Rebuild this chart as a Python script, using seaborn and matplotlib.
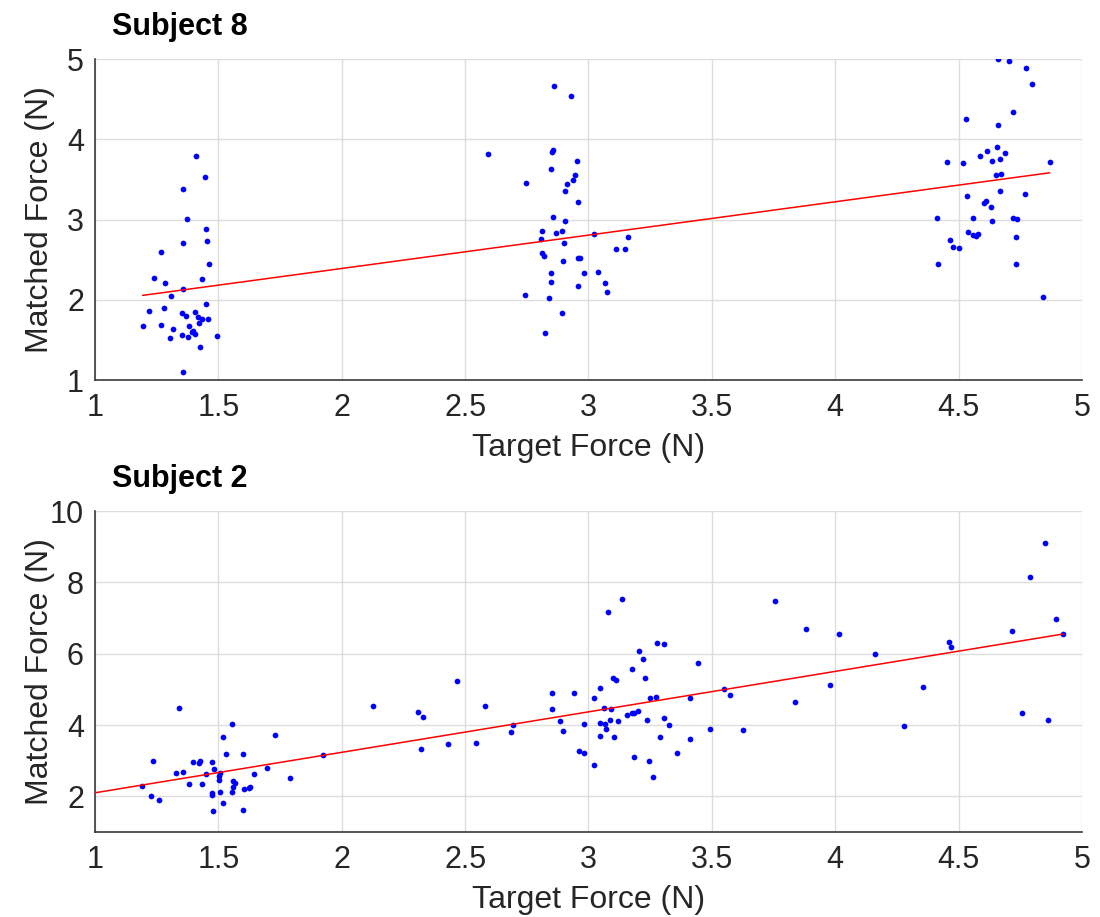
import numpy as np
import pandas as pd
import matplotlib
matplotlib.use("Agg")
import matplotlib.pyplot as plt
import seaborn as sns

# ---- Subject 8: target vs matched force (N) ----
s8_target = [
    1.411, 1.446, 1.357, 1.373, 1.451, 1.355, 1.455, 1.269, 1.462, 1.239,
    1.435, 1.284, 1.357, 1.307, 1.449, 1.220, 1.281, 1.351, 1.368, 1.405,
    1.418, 1.434, 1.459, 1.422, 1.193, 1.268, 1.318, 1.380, 1.396, 1.404,
    1.392, 1.353, 1.377, 1.304, 1.493, 1.427, 1.358,
    2.591, 2.860, 2.930, 2.855, 2.853, 2.952, 2.848, 2.945, 2.936, 2.913,
    2.905, 2.746, 2.956, 2.856, 2.903, 2.813, 2.867, 2.891, 3.021, 3.160,
    2.806, 2.902, 2.811, 2.818, 3.111, 3.148, 2.895, 2.956, 2.967, 2.850,
    2.980, 3.037, 2.848, 3.066, 2.957, 3.074, 2.742, 2.841, 2.894, 2.825,
    4.658, 4.703, 4.775, 4.798, 4.721, 4.528, 4.658, 4.655, 4.616, 4.686,
    4.585, 4.637, 4.666, 4.453, 4.519, 4.869, 4.652, 4.670, 4.667, 4.768,
    4.534, 4.601, 4.609, 4.633, 4.411, 4.557, 4.637, 4.720, 4.735, 4.540,
    4.559, 4.578, 4.569, 4.733, 4.466, 4.476, 4.500, 4.415, 4.734, 4.840,
]
s8_matched = [
    3.790, 3.530, 3.380, 3.010, 2.877, 2.711, 2.732, 2.599, 2.441, 2.275,
    2.262, 2.204, 2.133, 2.050, 1.951, 1.863, 1.892, 1.838, 1.801, 1.843,
    1.780, 1.759, 1.759, 1.714, 1.676, 1.689, 1.631, 1.672, 1.610, 1.568,
    1.597, 1.556, 1.539, 1.523, 1.543, 1.406, 1.095,
    3.816, 4.668, 4.539, 3.866, 3.837, 3.733, 3.633, 3.550, 3.496, 3.438,
    3.359, 3.455, 3.222, 3.031, 2.977, 2.852, 2.835, 2.852, 2.815, 2.786,
    2.761, 2.703, 2.582, 2.545, 2.628, 2.632, 2.478, 2.520, 2.520, 2.337,
    2.329, 2.345, 2.216, 2.208, 2.175, 2.096, 2.054, 2.021, 1.830, 1.589,
    4.996, 4.979, 4.892, 4.693, 4.339, 4.256, 4.173, 3.907, 3.857, 3.833,
    3.791, 3.733, 3.758, 3.716, 3.704, 3.712, 3.558, 3.567, 3.351, 3.322,
    3.297, 3.205, 3.230, 3.151, 3.022, 3.014, 2.985, 3.022, 3.002, 2.840,
    2.806, 2.823, 2.790, 2.786, 2.740, 2.661, 2.640, 2.441, 2.449, 2.030,
]

# ---- Subject 2: target vs matched force (N) ----
s2_target = [
    1.339, 1.554, 1.520, 1.730, 2.127, 2.308, 2.328, 2.322, 1.923, 1.236,
    1.397, 1.422, 1.424, 1.473, 1.532, 1.601, 1.484, 1.699, 1.328, 1.357,
    1.449, 1.508, 1.503, 1.645, 1.792, 1.501, 1.559, 1.568, 1.191, 1.381,
    1.432, 1.558, 1.603, 1.623, 1.630, 1.508, 1.557, 1.473, 1.474, 1.227,
    1.261, 1.518, 1.478, 1.600,
    2.466, 2.431, 2.546, 2.581, 2.694, 2.687, 2.851, 2.851, 2.942, 2.886,
    2.896, 2.982, 2.962, 2.982, 3.023, 3.023, 3.081, 3.137, 3.046, 3.062,
    3.092, 3.046, 3.065, 3.088, 3.118, 3.072, 3.047, 3.104, 3.100, 3.112,
    3.156, 3.176, 3.184, 3.202, 3.175, 3.203, 3.220, 3.228, 3.248, 3.275,
    3.238, 3.278, 3.304, 3.308, 3.327, 3.290, 3.186, 3.245, 3.260, 3.358,
    3.412, 3.412, 3.442, 3.492, 3.550, 3.572, 3.626, 3.756, 3.835,
    3.882, 4.014, 3.978, 4.162, 4.280, 4.357, 4.461, 4.468, 4.718, 4.789,
    4.851, 4.893, 4.924, 4.758, 4.864,
]
s2_matched = [
    4.487, 4.039, 3.657, 3.731, 4.543, 4.375, 4.216, 3.330, 3.153, 2.985,
    2.957, 2.948, 2.985, 2.957, 3.190, 3.200, 2.761, 2.808, 2.668, 2.687,
    2.631, 2.668, 2.565, 2.621, 2.528, 2.453, 2.444, 2.379, 2.285, 2.332,
    2.332, 2.267, 2.201, 2.220, 2.248, 2.127, 2.127, 2.090, 2.034, 2.015,
    1.894, 1.810, 1.576, 1.623,
    5.233, 3.479, 3.498, 4.524, 4.002, 3.797, 4.897, 4.450, 4.888, 4.123,
    3.825, 4.039, 3.284, 3.209, 4.767, 2.873, 7.155, 7.528, 5.037, 4.487,
    4.440, 4.058, 4.039, 4.151, 4.123, 3.890, 3.703, 3.675, 5.308, 5.261,
    4.282, 4.328, 4.328, 4.403, 5.578, 6.063, 5.849, 5.308, 4.748, 4.785,
    4.151, 6.306, 6.259, 4.198, 3.993, 3.675, 3.106, 2.985, 2.547, 3.209,
    3.610, 4.757, 5.728, 3.890, 5.000, 4.841, 3.871, 7.472, 4.655,
    6.679, 6.549, 5.121, 5.979, 3.983, 5.065, 6.325, 6.185, 6.623, 8.153,
    9.104, 6.959, 6.549, 4.347, 4.151,
]

x_ticks = [1, 1.5, 2, 2.5, 3, 3.5, 4, 4.5, 5]
s8_y_ticks = [1, 2, 3, 4, 5]
s2_y_ticks = [2, 4, 6, 8, 10]

sns.set_theme(style="white")
plt.rcParams["font.family"] = ["Liberation Sans", "DejaVu Sans"]

AX_COLOR = "#3a3a3a"
GRID_COLOR = "#dedede"
TICK_FS = 22
LABEL_FS = 23
TITLE_FS = 22

fig = plt.figure(figsize=(11.0, 9.17), dpi=100)
ax_top = fig.add_axes([0.08636, 0.58560, 0.89727, 0.35005])
ax_bot = fig.add_axes([0.08636, 0.09269, 0.89727, 0.35005])

panels = [
    (ax_top, "Subject 8", s8_target, s8_matched, (1, 5), s8_y_ticks, False, 1 - 35 / 917),
    (ax_bot, "Subject 2", s2_target, s2_matched, (1, 10), s2_y_ticks, True, 1 - 487 / 917),
]

for ax, title, tx, my, ylim, yticks, extend_left, title_y in panels:
    df = pd.DataFrame({"target": tx, "matched": my})
    sns.scatterplot(data=df, x="target", y="matched", ax=ax, color="#0000ff",
                    s=17, linewidth=0, zorder=3)

    # least-squares line over the data range
    slope, intercept = np.polyfit(df["target"], df["matched"], 1)
    x0 = 1.0 if extend_left else df["target"].min()
    x1 = df["target"].max()
    xl = np.array([x0, x1])
    sns.lineplot(x=xl, y=slope * xl + intercept, ax=ax, color="#ff0000",
                 linewidth=1.1, zorder=4)

    ax.set_xlim(1, 5)
    ax.set_ylim(*ylim)
    ax.set_xticks(x_ticks)
    ax.set_xticklabels([f"{t:g}" for t in x_ticks])
    ax.set_yticks(yticks)
    ax.set_yticklabels([f"{t:g}" for t in yticks])

    ax.grid(True, color=GRID_COLOR, linewidth=1.0, zorder=0)
    ax.set_axisbelow(True)
    for side in ("top", "right"):
        ax.spines[side].set_visible(False)
    for side in ("left", "bottom"):
        ax.spines[side].set_color(AX_COLOR)
        ax.spines[side].set_linewidth(1.2)

    ax.tick_params(axis="both", direction="in", length=7, width=1.0,
                   color=AX_COLOR, labelcolor="#262626", labelsize=TICK_FS)
    ax.tick_params(axis="x", pad=9)
    ax.tick_params(axis="y", pad=8)

    ax.set_xlabel("Target Force (N)", fontsize=LABEL_FS, color="#262626")
    ax.set_ylabel("Matched Force (N)", fontsize=LABEL_FS, color="#262626")
    ax.xaxis.set_label_coords(0.5, -0.165)
    ax.yaxis.set_label_coords(-0.041, 0.5)

    fig.text(112 / 1100, title_y, title, fontsize=TITLE_FS, fontweight="bold",
             color="black", ha="left", va="baseline")

fig.savefig("out.png", dpi=100, facecolor="white")
